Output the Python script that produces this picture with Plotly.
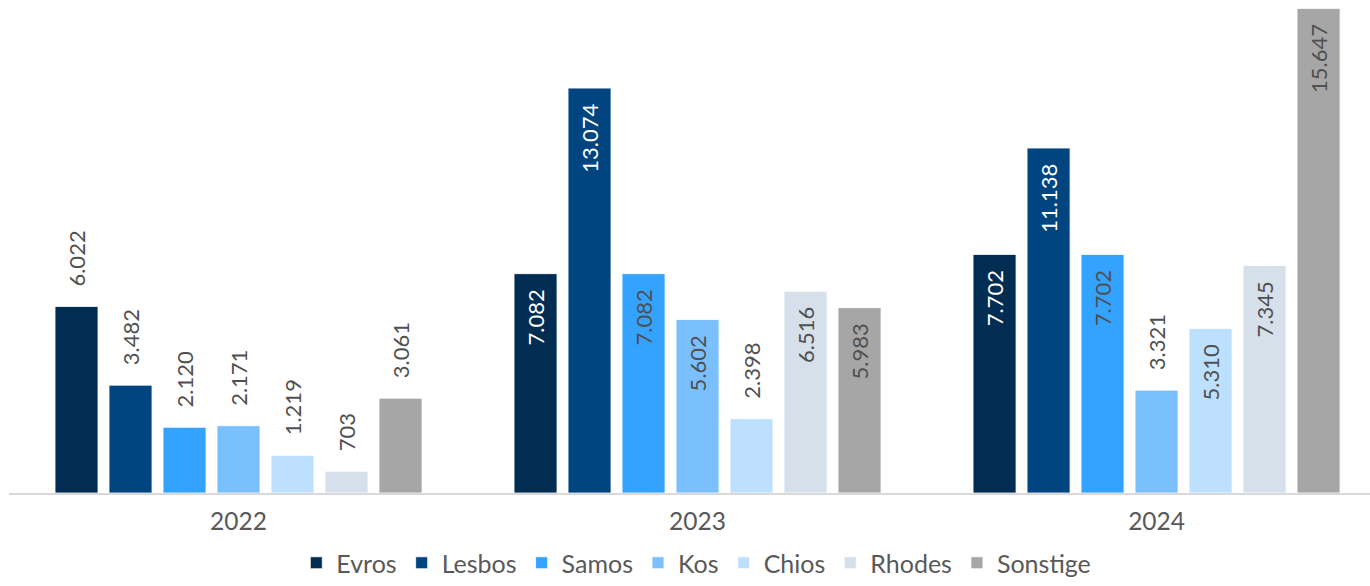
import plotly.graph_objects as go

years = ["2022", "2023", "2024"]
series_names = ["Evros", "Lesbos", "Samos", "Kos", "Chios", "Rhodes", "Sonstige"]
evros = [6022, 7082, 7702]
lesbos = [3482, 13074, 11138]
samos = [2120, 7082, 7702]
kos = [2171, 5602, 3321]
chios = [1219, 2398, 5310]
rhodes = [703, 6516, 7345]
sonstige = [3061, 5983, 15647]
values = [evros, lesbos, samos, kos, chios, rhodes, sonstige]

colors = ["#022d52", "#00457f", "#33a3ff", "#7ac0ff", "#bde0ff", "#d6e0eb", "#a6a6a6"]
inside_text_colors = ["#ffffff", "#ffffff", "#505050", "#505050", "#505050", "#505050", "#505050"]
positions = [
    ["outside", "inside", "inside"],
    ["outside", "inside", "inside"],
    ["outside", "inside", "inside"],
    ["outside", "inside", "outside"],
    ["outside", "outside", "inside"],
    ["outside", "inside", "inside"],
    ["outside", "inside", "inside"],
]

NB = "\u00a0"
HAIR = "\u200a"
FONT = "Lato"

fig = go.Figure()
for name, vals, col, icol, pos in zip(series_names, values, colors, inside_text_colors, positions):
    texts = []
    for v, p in zip(vals, pos):
        s = f"{v:,}".replace(",", ".")
        if p == "outside":
            texts.append(NB * 3 + s)
        else:
            texts.append(s + NB * 2 + HAIR)
    fig.add_trace(go.Bar(
        name=name,
        x=years,
        y=vals,
        marker=dict(color=col, line=dict(color="#ffffff", width=0.8)),
        text=texts,
        textposition=pos,
        textangle=-90,
        constraintext="none",
        insidetextanchor="end",
        insidetextfont=dict(family=FONT, size=22, color=icol),
        outsidetextfont=dict(family=FONT, size=22, color="#505050"),
        hoverinfo="skip",
    ))

fig.update_layout(
    width=1370,
    height=586,
    margin=dict(l=9, r=0, t=8, b=93, autoexpand=False),
    paper_bgcolor="white",
    plot_bgcolor="white",
    barmode="group",
    bargap=0.1765,
    bargroupgap=0.204,
    font=dict(family=FONT, color="#595959"),
    showlegend=True,
    legend=dict(
        orientation="h",
        x=0.505,
        xanchor="center",
        xref="paper",
        y=-0.011,
        yref="container",
        yanchor="bottom",
        font=dict(family=FONT, size=25, color="#595959"),
        itemwidth=30,
        traceorder="normal",
    ),
    xaxis=dict(
        type="category",
        range=[-0.5, 2.465],
        showline=True,
        linecolor="#d9d9d9",
        linewidth=2,
        showgrid=False,
        ticks="outside",
        ticklen=6,
        tickcolor="rgba(0,0,0,0)",
        tickfont=dict(family=FONT, size=24.5, color="#595959"),
        automargin=False,
        fixedrange=True,
    ),
    yaxis=dict(
        range=[0, 15660],
        visible=False,
        showgrid=False,
        zeroline=False,
        automargin=False,
        fixedrange=True,
    ),
)

fig.write_html(
    "out.html",
    config={"displayModeBar": False},
    post_script="document.body.style.margin='0';document.body.style.overflow='hidden';",
)
